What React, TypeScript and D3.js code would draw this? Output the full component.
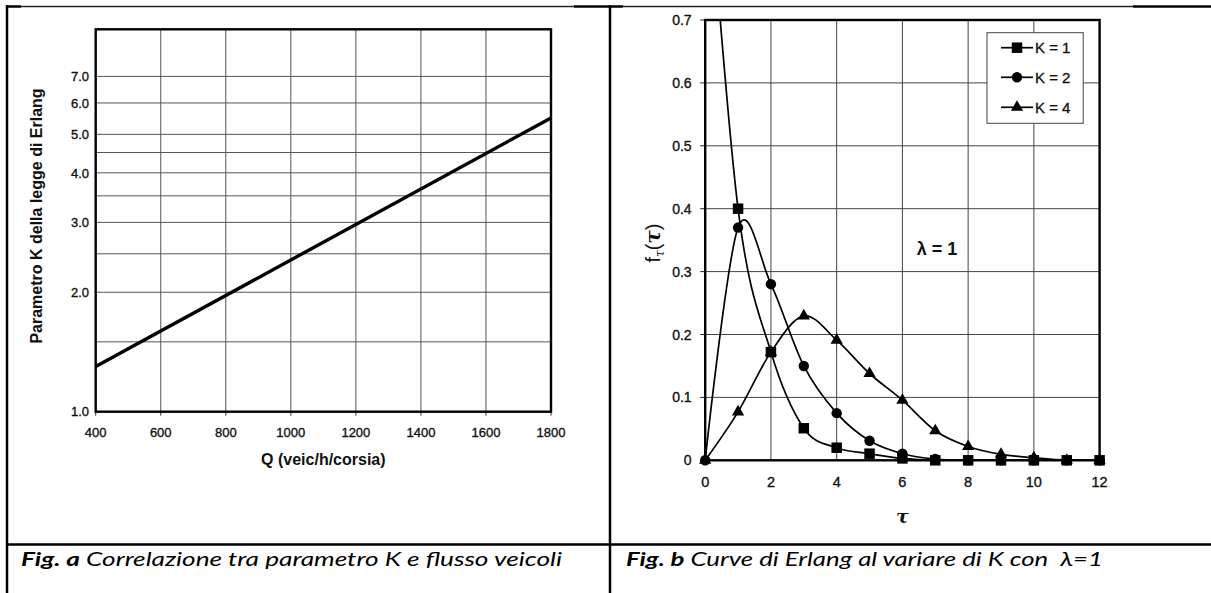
import React from 'react';
import * as d3 from 'd3';

// ---- Fig. a data ----
const qTicks = [400, 600, 800, 1000, 1200, 1400, 1600, 1800];
const kLabelTicks = [1, 2, 3, 4, 5, 6, 7];
const kGridTicks = [1.5, 2, 2.5, 3, 3.5, 4, 4.5, 5, 6, 7];
const flowQ = [400, 1800];
const flowK = [1.3, 5.5];

// ---- Fig. b data ----
const tau = [0, 1, 2, 3, 4, 5, 6, 7, 8, 9, 10, 11, 12];
const fK1 = [1.0, 0.4, 0.172, 0.051, 0.02, 0.0105, 0.003, 0, 0, 0, 0, 0, 0];
const fK2 = [0, 0.37, 0.28, 0.15, 0.075, 0.031, 0.0105, 0.002, 0, 0, 0, 0, 0];
const fK4 = [0, 0.077, 0.172, 0.2295, 0.191, 0.138, 0.0955, 0.047, 0.022, 0.0095, 0.004, 0, 0];
const tauTicks = [0, 2, 4, 6, 8, 10, 12];
const fTicks = [0, 0.1, 0.2, 0.3, 0.4, 0.5, 0.6, 0.7];
const seriesNames = ['K = 1', 'K = 2', 'K = 4'];

const FONT = "'Liberation Sans', Arial, sans-serif";
const CAP_FONT = "Lato, 'Open Sans', 'Noto Sans', sans-serif";

export default function App() {
  const W = 1211, H = 593;

  // Fig. a
  const aL = 95.7, aR = 551, aT = 29.3, aB = 411.7;
  const xA = d3.scaleLinear().domain([400, 1800]).range([aL, aR]);
  const yA = d3.scaleLog().domain([1, 9.2]).range([aB, aT]);
  const lineA = d3.line<number>().x((_, i) => xA(flowQ[i])).y((d) => yA(d));

  // Fig. b
  const bL = 705.2, bR = 1099.6, bT = 20, bB = 460.3;
  const xB = d3.scaleLinear().domain([0, 12]).range([bL, bR]);
  const yB = d3.scaleLinear().domain([0, 0.7]).range([bB, bT]);
  const lineB = d3
    .line<number>()
    .x((_, i) => xB(tau[i]))
    .y((d) => yB(d))
    .curve(d3.curveCardinal.tension(0));

  const symSquare = d3.symbol().type(d3.symbolSquare).size(110)() as string;
  const symCircle = d3.symbol().type(d3.symbolCircle).size(85)() as string;
  const symTri = d3.symbol().type(d3.symbolTriangle).size(65)() as string;
  const series = [
    { vals: fK1, sym: symSquare },
    { vals: fK2, sym: symCircle },
    { vals: fK4, sym: symTri },
  ];

  const legX = 987, legY = 32.7, legW = 96.2, legH = 90.6;
  const legRows = [47.7, 77.3, 107.3];
  const tickTextStyle = { stroke: '#111', strokeWidth: 0.35 } as React.CSSProperties;

  return (
    <svg
      width={W}
      height={H}
      viewBox={`0 0 ${W} ${H}`}
      style={{ position: 'absolute', left: 0, top: 0, background: '#fff' }}
    >
      <rect x={0} y={0} width={W} height={H} fill="#fff" />
      <defs>
        <clipPath id="clipB">
          <rect x={bL} y={bT} width={bR - bL} height={bB - bT} />
        </clipPath>
      </defs>

      {/* table borders */}
      <line x1={6} x2={21} y1={6.5} y2={6.5} stroke="#000" strokeWidth={2.5} />
      <line x1={21} x2={574} y1={6.5} y2={6.5} stroke="#222" strokeWidth={1.5} />
      <line x1={574} x2={623} y1={6.5} y2={6.5} stroke="#000" strokeWidth={2.5} />
      <line x1={623} x2={1133} y1={6.5} y2={6.5} stroke="#222" strokeWidth={1.5} />
      <line x1={1133} x2={W} y1={6.5} y2={6.5} stroke="#000" strokeWidth={2.5} />
      <line x1={7} x2={7} y1={5.3} y2={H} stroke="#000" strokeWidth={2.5} />
      <line x1={610} x2={610} y1={5.3} y2={H} stroke="#000" strokeWidth={2.5} />
      <line x1={7} x2={W} y1={544.5} y2={544.5} stroke="#000" strokeWidth={2.5} />

      {/* ===== Fig. a ===== */}
      <g>
        {qTicks.slice(1, -1).map((q) => (
          <line key={'gq' + q} x1={xA(q)} x2={xA(q)} y1={aT} y2={aB} stroke="#555" strokeWidth={1} />
        ))}
        {kGridTicks.map((k) => (
          <line key={'gk' + k} x1={aL} x2={aR} y1={yA(k)} y2={yA(k)} stroke="#555" strokeWidth={1} />
        ))}
        {qTicks.map((q) => (
          <line key={'tq' + q} x1={xA(q)} x2={xA(q)} y1={aB} y2={aB + 4} stroke="#333" strokeWidth={1} />
        ))}
        <rect x={aL} y={aT} width={aR - aL} height={aB - aT} fill="none" stroke="#000" strokeWidth={2.4} />
        <path d={lineA(flowK) as string} fill="none" stroke="#000" strokeWidth={3.4} />
        {kLabelTicks.map((k) => (
          <text
            key={'lk' + k}
            x={89}
            y={yA(k)}
            dy="0.36em"
            textAnchor="end"
            fontFamily={FONT}
            fontSize={13}
            fill="#111"
            style={tickTextStyle}
          >
            {k.toFixed(1)}
          </text>
        ))}
        {qTicks.map((q) => (
          <text
            key={'lq' + q}
            x={xA(q)}
            y={437}
            textAnchor="middle"
            fontFamily={FONT}
            fontSize={13}
            fill="#111"
            style={tickTextStyle}
          >
            {q}
          </text>
        ))}
        <text
          x={(aL + aR) / 2}
          y={465}
          textAnchor="middle"
          fontFamily={FONT}
          fontSize={16}
          fontWeight="bold"
          fill="#111"
        >
          Q (veic/h/corsia)
        </text>
        <text
          transform="translate(42,216) rotate(-90)"
          textAnchor="middle"
          fontFamily={FONT}
          fontSize={16}
          fontWeight="bold"
          fill="#111"
        >
          Parametro K della legge di Erlang
        </text>
      </g>

      {/* ===== Fig. b ===== */}
      <g>
        {tauTicks.slice(1, -1).map((t) => (
          <line key={'gt' + t} x1={xB(t)} x2={xB(t)} y1={bT} y2={bB} stroke="#444" strokeWidth={1} />
        ))}
        {fTicks.slice(1, -1).map((f) => (
          <line key={'gf' + f} x1={bL} x2={bR} y1={yB(f)} y2={yB(f)} stroke="#444" strokeWidth={1} />
        ))}
        {fTicks.map((f) => (
          <line key={'tf' + f} x1={bL - 5} x2={bL} y1={yB(f)} y2={yB(f)} stroke="#222" strokeWidth={1} />
        ))}
        <rect x={bL} y={bT} width={bR - bL} height={bB - bT} fill="none" stroke="#000" strokeWidth={2.4} />
        <g clipPath="url(#clipB)">
          {series.map((s, si) => (
            <path key={'s' + si} d={lineB(s.vals) as string} fill="none" stroke="#000" strokeWidth={1.7} />
          ))}
        </g>
        {series.map((s, si) =>
          s.vals.map((v, i) =>
            v <= 0.7 ? (
              <path
                key={'m' + si + '-' + i}
                d={s.sym}
                transform={`translate(${xB(tau[i])},${yB(v)})`}
                fill="#000"
              />
            ) : null
          )
        )}
        {fTicks.map((f) => (
          <text
            key={'lf' + f}
            x={691.6}
            y={yB(f)}
            dy="0.36em"
            textAnchor="end"
            fontFamily={FONT}
            fontSize={14}
            fill="#111"
            style={tickTextStyle}
          >
            {f === 0 ? '0' : f.toFixed(1)}
          </text>
        ))}
        {tauTicks.map((t) => (
          <text
            key={'lt' + t}
            x={xB(t)}
            y={487}
            textAnchor="middle"
            fontFamily={FONT}
            fontSize={14.5}
            fill="#111"
            style={tickTextStyle}
          >
            {t}
          </text>
        ))}
        <text
          x={(bL + bR) / 2}
          y={523}
          textAnchor="middle"
          fontFamily="'DejaVu Serif', serif"
          fontSize={19}
          fontWeight="bold"
          fontStyle="italic"
          fill="#111"
        >
          τ
        </text>
        <text
          transform="translate(660,243) rotate(-90)"
          textAnchor="middle"
          fontFamily={FONT}
          fontSize={20}
          fill="#111"
        >
          f
          <tspan fontSize={12} dy={4} fontStyle="italic" fontFamily="'DejaVu Serif', serif">τ</tspan>
          <tspan dy={-4}>(</tspan>
          <tspan fontStyle="italic" fontWeight="bold" fontFamily="'DejaVu Serif', serif">τ</tspan>
          <tspan>)</tspan>
        </text>
        <text
          x={937}
          y={255}
          textAnchor="middle"
          fontFamily={FONT}
          fontSize={18}
          fontWeight="bold"
          fill="#111"
          style={{ whiteSpace: 'pre' }}
        >
          λ = 1
        </text>

        {/* legend */}
        <rect x={legX} y={legY} width={legW} height={legH} fill="#fff" stroke="#444" strokeWidth={1} />
        {series.map((s, si) => (
          <g key={'leg' + si}>
            <line x1={1001} x2={1033} y1={legRows[si]} y2={legRows[si]} stroke="#000" strokeWidth={1.7} />
            <path d={s.sym} transform={`translate(1017,${legRows[si]})`} fill="#000" />
            <text
              x={1035}
              y={legRows[si]}
              dy="0.36em"
              fontFamily={FONT}
              fontSize={15}
              fill="#111"
              style={tickTextStyle}
            >
              {seriesNames[si]}
            </text>
          </g>
        ))}
      </g>

      {/* captions */}
      <text
        x={21}
        y={566}
        fontFamily={CAP_FONT}
        fontSize={19}
        fontStyle="italic"
        fill="#000"
        textLength={541}
        lengthAdjust="spacingAndGlyphs"
        style={{ whiteSpace: 'pre' }}
      >
        <tspan fontWeight="bold">Fig. a</tspan>
        <tspan> Correlazione tra parametro K e flusso veicoli</tspan>
      </text>
      <text
        x={626}
        y={566}
        fontFamily={CAP_FONT}
        fontSize={19}
        fontStyle="italic"
        fill="#000"
        textLength={477}
        lengthAdjust="spacingAndGlyphs"
        style={{ whiteSpace: 'pre' }}
      >
        <tspan fontWeight="bold">Fig. b</tspan>
        <tspan> Curve di Erlang al variare di K con  λ=1</tspan>
      </text>
    </svg>
  );
}
